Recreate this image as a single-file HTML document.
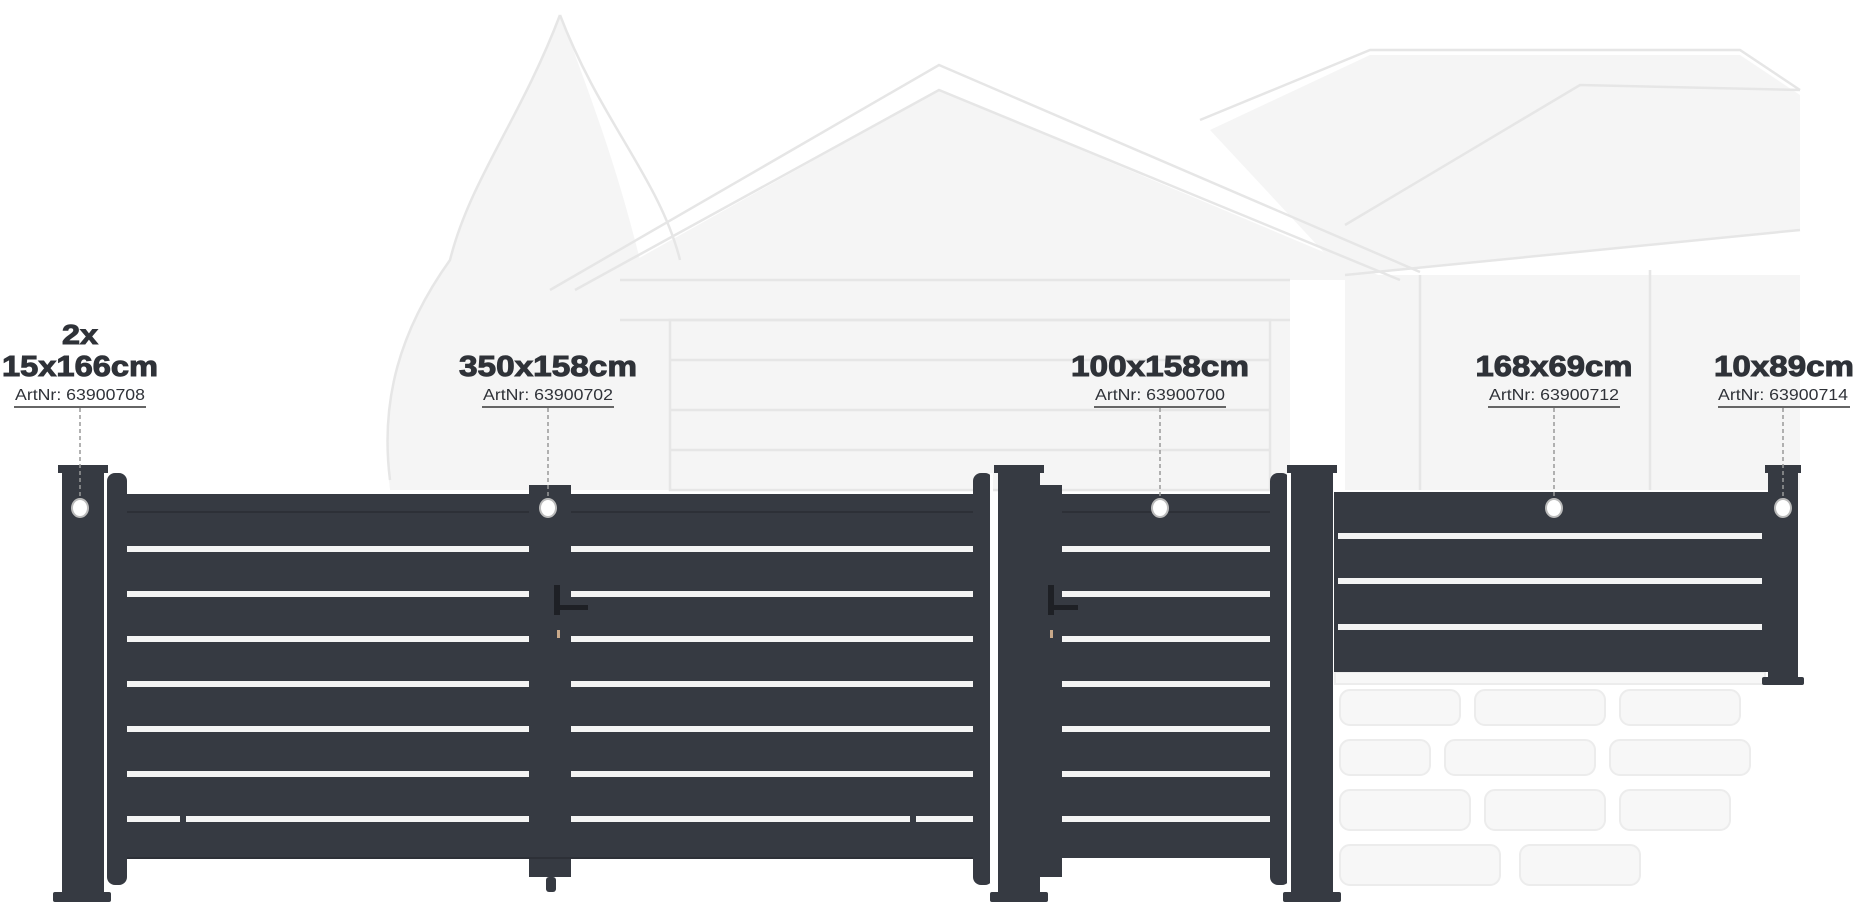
<!DOCTYPE html>
<html><head><meta charset="utf-8"><style>
html,body{margin:0;padding:0;background:#fff;width:1856px;height:908px;overflow:hidden}
svg{display:block}
.t{font-family:"Liberation Sans",Arial,sans-serif;fill:#2f3238}
</style></head><body>
<svg width="1856" height="908" viewBox="0 0 1856 908" xmlns="http://www.w3.org/2000/svg">
<!-- faint house sketch -->
<g fill="#f5f5f5" stroke="none">
<polygon points="600,280 939,90 1390,280"/>
<rect x="620" y="280" width="670" height="210"/>
<polygon points="1210,130 1370,55 1740,55 1800,95 1800,230 1345,275"/>
<rect x="1345" y="275" width="455" height="215"/>
<path d="M560 15 C520 120 470 180 450 260 C400 330 380 400 390 490 L620 490 L640 260 C620 180 600 120 560 15Z"/>
</g>
<g stroke="#e6e6e6" stroke-width="2.5" fill="none">
<polyline points="550,290 939,65 1420,272"/>
<polyline points="575,290 939,90 1400,280"/>
<line x1="620" y1="280" x2="1290" y2="280"/>
<line x1="620" y1="320" x2="1290" y2="320"/>
<rect x="670" y="320" width="600" height="170"/>
<line x1="670" y1="360" x2="1270" y2="360"/>
<line x1="670" y1="410" x2="1270" y2="410"/>
<line x1="670" y1="450" x2="1270" y2="450"/>
<polyline points="1200,120 1370,50 1740,50 1800,90"/>
<polyline points="1345,225 1580,85 1800,90"/>
<line x1="1345" y1="275" x2="1800" y2="230"/>
<line x1="1420" y1="275" x2="1420" y2="490"/>
<line x1="1650" y1="270" x2="1650" y2="490"/>
<path d="M560 15 C520 120 470 180 450 260 C400 330 380 400 390 480"/>
<path d="M560 15 C600 120 660 180 680 260"/>
</g>
<g stroke="#ececec" stroke-width="2" fill="#f7f7f7">
<rect x="1340" y="690" width="120" height="35" rx="10"/><rect x="1475" y="690" width="130" height="35" rx="10"/><rect x="1620" y="690" width="120" height="35" rx="10"/>
<rect x="1340" y="740" width="90" height="35" rx="10"/><rect x="1445" y="740" width="150" height="35" rx="10"/><rect x="1610" y="740" width="140" height="35" rx="10"/>
<rect x="1340" y="790" width="130" height="40" rx="10"/><rect x="1485" y="790" width="120" height="40" rx="10"/><rect x="1620" y="790" width="110" height="40" rx="10"/>
<rect x="1340" y="845" width="160" height="40" rx="10"/><rect x="1520" y="845" width="120" height="40" rx="10"/>
<rect x="1335" y="672" width="430" height="12"/>
</g>
<g fill="#363a42">
<rect x="62" y="468" width="42" height="432"/><rect x="58" y="465" width="50" height="8"/><rect x="53" y="892" width="58" height="10" rx="2"/>
<rect x="107" y="473" width="20" height="412" rx="8"/>
<rect x="127" y="494" width="402" height="364"/>
<rect x="529" y="485" width="42" height="392"/>
<rect x="546" y="877" width="10" height="15" rx="3"/>
<rect x="571" y="494" width="402" height="364"/>
<rect x="973" y="473" width="20" height="412" rx="8"/>
<rect x="998" y="468" width="42" height="432"/><rect x="994" y="465" width="50" height="8"/><rect x="990" y="892" width="58" height="10" rx="2"/>
<rect x="1040" y="485" width="22" height="392"/>
<rect x="1062" y="494" width="208" height="364"/>
<rect x="1270" y="473" width="20" height="412" rx="8"/>
<rect x="1291" y="468" width="42" height="432"/><rect x="1287" y="465" width="50" height="8"/><rect x="1283" y="892" width="58" height="10" rx="2"/>
<rect x="1334" y="492" width="436" height="180"/>
<rect x="1768" y="468" width="30" height="215"/><rect x="1765" y="465" width="36" height="8"/><rect x="1762" y="677" width="42" height="8" rx="2"/>
</g>
<g stroke="#2d3037" stroke-width="2">
<line x1="127" y1="512" x2="529" y2="512"/><line x1="571" y1="512" x2="973" y2="512"/><line x1="1062" y1="512" x2="1270" y2="512"/>
<line x1="127" y1="858" x2="973" y2="858"/>
</g>
<g fill="#fff">
<rect x="104" y="473" width="3" height="410"/><rect x="990" y="473" width="3" height="410"/><rect x="1287" y="473" width="3" height="410"/>
</g>
<g fill="#f4f4f4">
<rect x="127" y="546" width="402" height="6"/><rect x="571" y="546" width="402" height="6"/><rect x="1062" y="546" width="208" height="6"/>
<rect x="127" y="591" width="402" height="6"/><rect x="571" y="591" width="402" height="6"/><rect x="1062" y="591" width="208" height="6"/>
<rect x="127" y="636" width="402" height="6"/><rect x="571" y="636" width="402" height="6"/><rect x="1062" y="636" width="208" height="6"/>
<rect x="127" y="681" width="402" height="6"/><rect x="571" y="681" width="402" height="6"/><rect x="1062" y="681" width="208" height="6"/>
<rect x="127" y="726" width="402" height="6"/><rect x="571" y="726" width="402" height="6"/><rect x="1062" y="726" width="208" height="6"/>
<rect x="127" y="771" width="402" height="6"/><rect x="571" y="771" width="402" height="6"/><rect x="1062" y="771" width="208" height="6"/>
<rect x="127" y="816" width="402" height="6"/><rect x="571" y="816" width="402" height="6"/><rect x="1062" y="816" width="208" height="6"/>
<rect x="1338" y="533" width="424" height="6"/><rect x="1338" y="578" width="424" height="6"/><rect x="1338" y="624" width="424" height="6"/>
</g>
<g fill="#363a42"><rect x="180" y="812" width="6" height="14"/><rect x="910" y="812" width="6" height="14"/></g>
<g fill="#1e2025"><rect x="554" y="585" width="6" height="30"/><rect x="554" y="605" width="34" height="5"/><rect x="1048" y="585" width="6" height="30"/><rect x="1048" y="605" width="30" height="5"/></g>
<rect x="557" y="630" width="3" height="8" fill="#c9a98a"/><rect x="1050" y="630" width="3" height="8" fill="#c9a98a"/>
<g class="t" text-anchor="middle" font-weight="bold" stroke="#2f3238" stroke-width="1">
<text x="80" y="344" font-size="28" textLength="36" lengthAdjust="spacingAndGlyphs">2x</text>
<text x="80" y="376" font-size="29" textLength="156" lengthAdjust="spacingAndGlyphs">15x166cm</text>
<text x="548" y="376" font-size="29" textLength="178" lengthAdjust="spacingAndGlyphs">350x158cm</text>
<text x="1160" y="376" font-size="29" textLength="178" lengthAdjust="spacingAndGlyphs">100x158cm</text>
<text x="1554" y="376" font-size="29" textLength="157" lengthAdjust="spacingAndGlyphs">168x69cm</text>
<text x="1784" y="376" font-size="29" textLength="140" lengthAdjust="spacingAndGlyphs">10x89cm</text>
</g>
<g class="t" text-anchor="middle" font-size="16" fill="#444">
<text x="80" y="400" textLength="130" lengthAdjust="spacingAndGlyphs">ArtNr: 63900708</text>
<text x="548" y="400" textLength="130" lengthAdjust="spacingAndGlyphs">ArtNr: 63900702</text>
<text x="1160" y="400" textLength="130" lengthAdjust="spacingAndGlyphs">ArtNr: 63900700</text>
<text x="1554" y="400" textLength="130" lengthAdjust="spacingAndGlyphs">ArtNr: 63900712</text>
<text x="1783" y="400" textLength="130" lengthAdjust="spacingAndGlyphs">ArtNr: 63900714</text>
</g>
<g stroke="#666" stroke-width="2">
<line x1="14" y1="407" x2="146" y2="407"/><line x1="482" y1="407" x2="614" y2="407"/><line x1="1094" y1="407" x2="1226" y2="407"/><line x1="1488" y1="407" x2="1620" y2="407"/><line x1="1718" y1="407" x2="1850" y2="407"/>
</g>
<g stroke="#999" stroke-width="1.5" stroke-dasharray="4,3">
<line x1="80" y1="408" x2="80" y2="500"/><line x1="548" y1="408" x2="548" y2="500"/><line x1="1160" y1="408" x2="1160" y2="500"/><line x1="1554" y1="408" x2="1554" y2="500"/><line x1="1783" y1="408" x2="1783" y2="500"/>
</g>
<g fill="#fff" stroke="#bbb" stroke-width="2">
<ellipse cx="80" cy="508" rx="8" ry="9"/><ellipse cx="548" cy="508" rx="8" ry="9"/><ellipse cx="1160" cy="508" rx="8" ry="9"/><ellipse cx="1554" cy="508" rx="8" ry="9"/><ellipse cx="1783" cy="508" rx="8" ry="9"/>
</g>
</svg>
</body></html>
